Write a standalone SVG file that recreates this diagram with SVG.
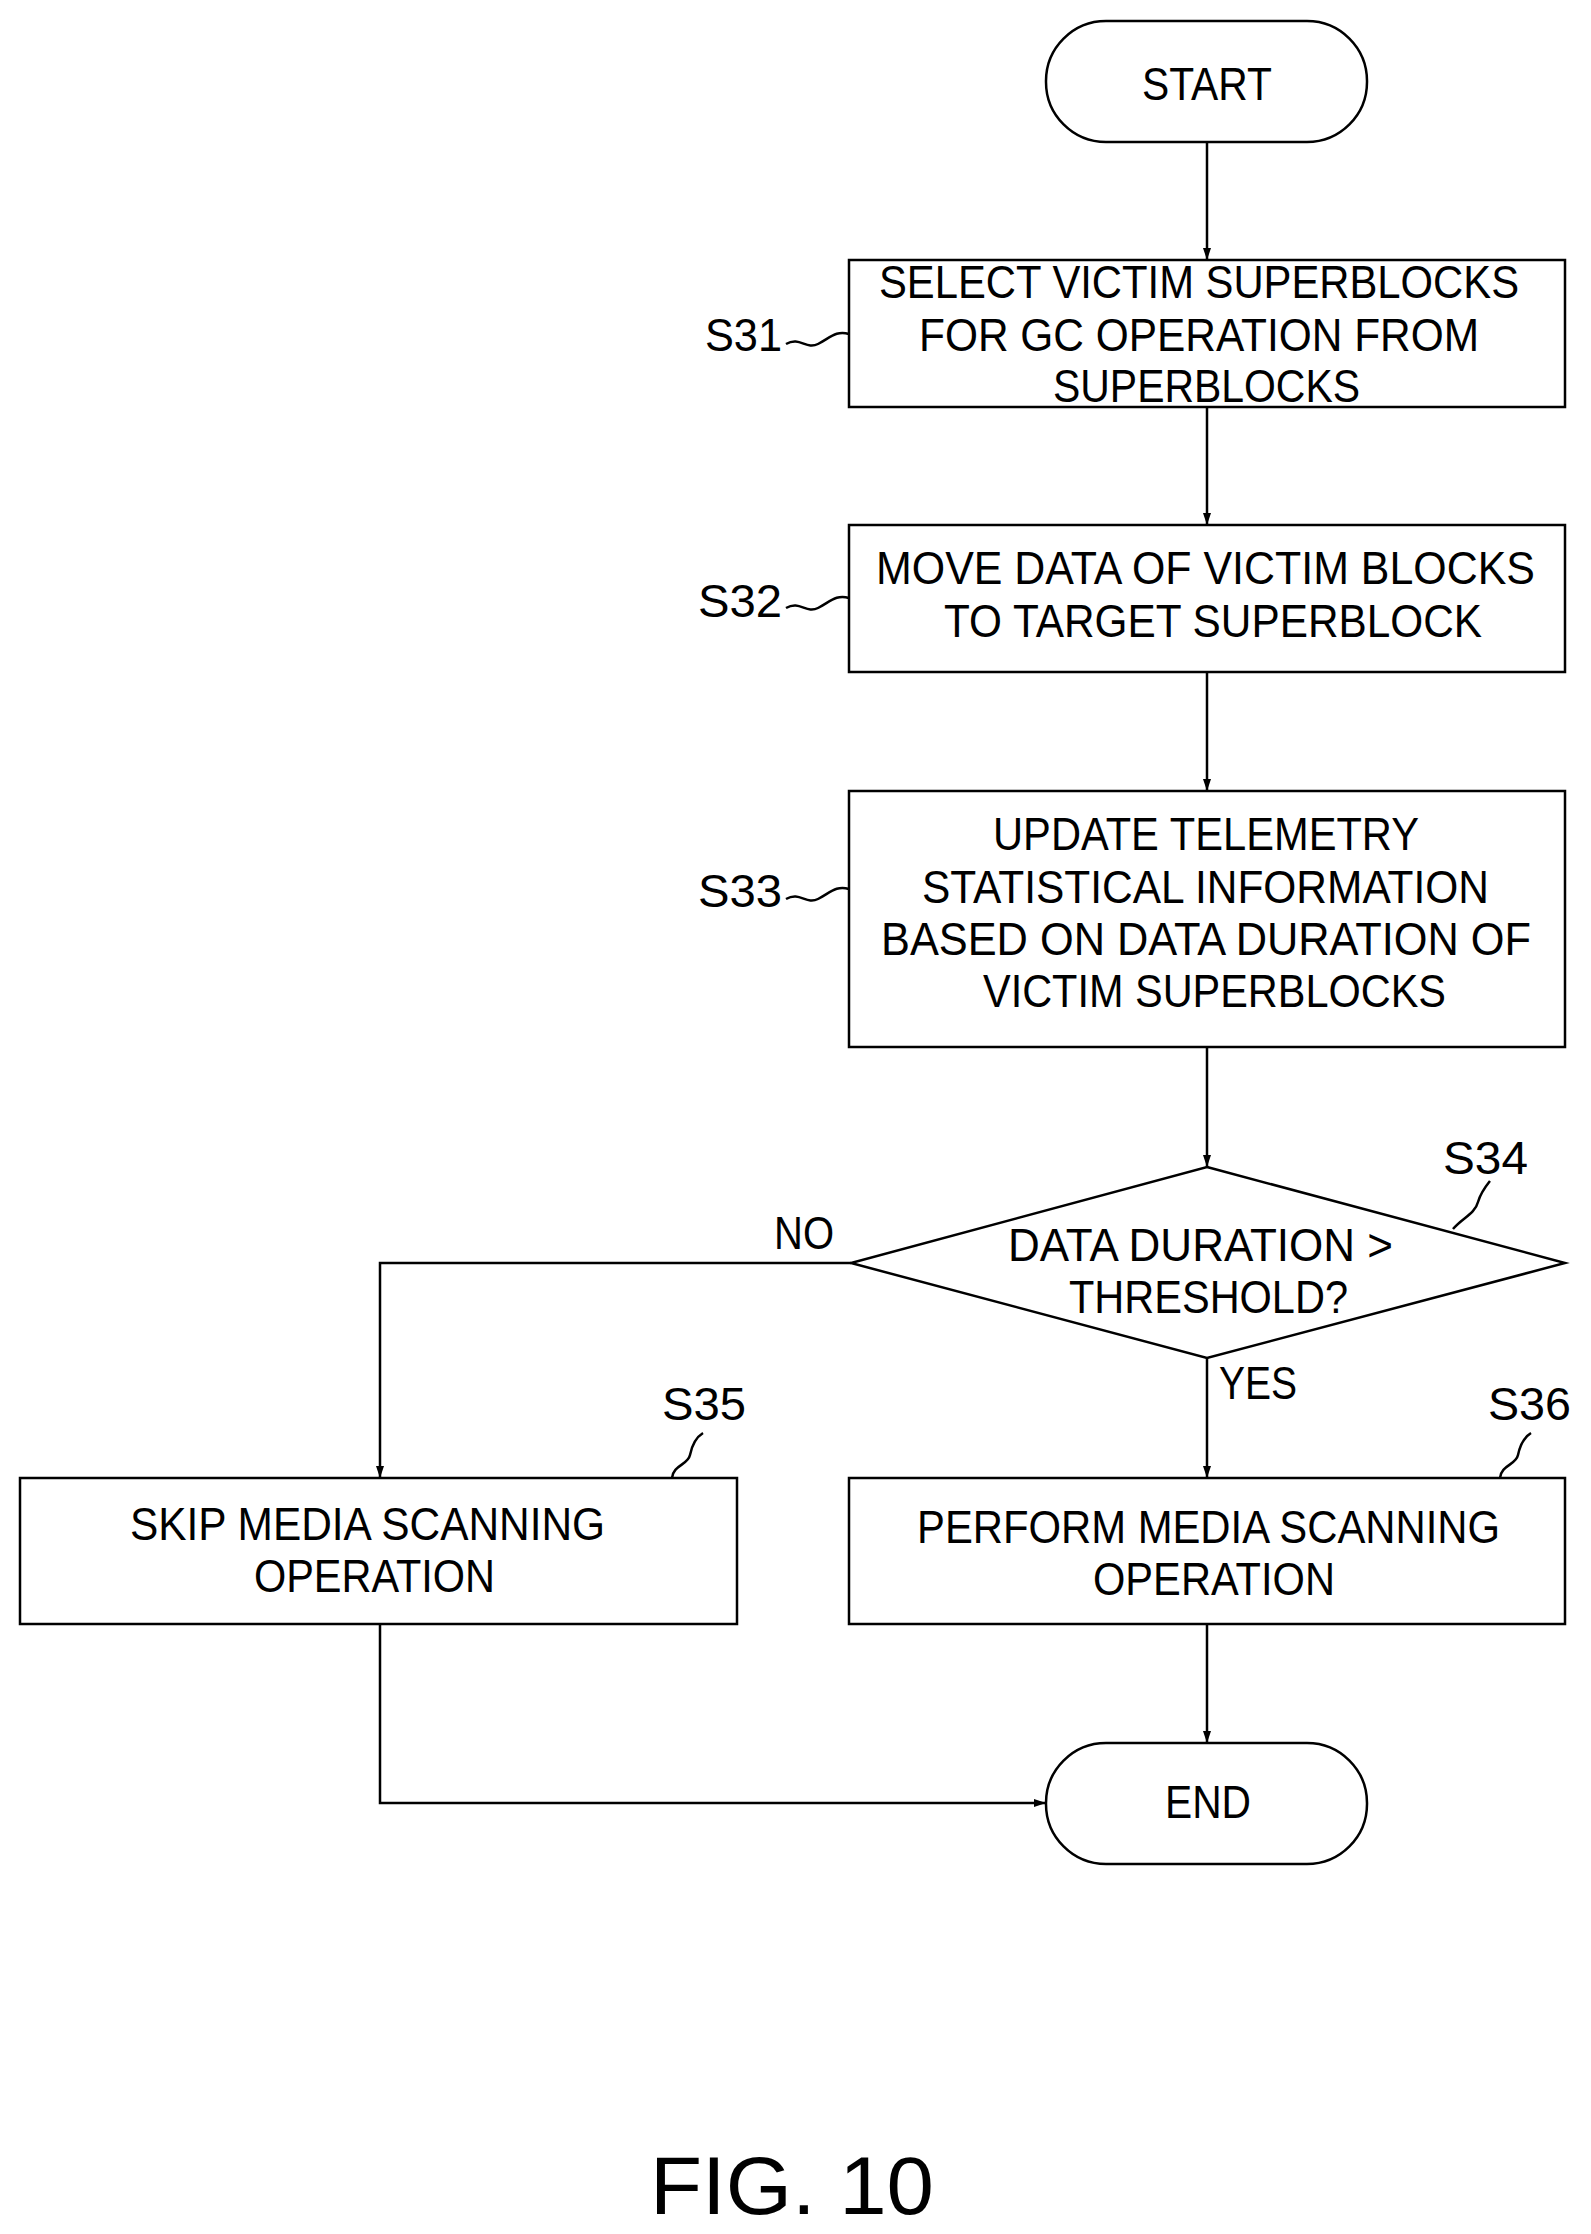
<svg xmlns="http://www.w3.org/2000/svg" width="1591" height="2234" viewBox="0 0 1591 2234">
<style>
.s{fill:#fff;stroke:#000;stroke-width:2.5}
.c{fill:none;stroke:#000;stroke-width:2.5}
text{font-family:"Liberation Sans",Arial,sans-serif;font-size:46px;fill:#000}
</style>
<defs><marker id="a" markerWidth="12" markerHeight="18" refX="18" refY="6" viewBox="0 0 18 12" orient="auto" markerUnits="userSpaceOnUse"><path d="M0,0 L18,6 L0,12 Z" fill="#000"/></marker></defs>
<rect width="1591" height="2234" fill="#fff"/>
<g id="start"><rect class="s" x="1046" y="21" width="321" height="121" rx="60"/><text x="1142" y="100" textLength="130" lengthAdjust="spacingAndGlyphs">START</text></g>
<g id="s31"><rect class="s" x="849" y="260" width="716" height="147"/>
<text x="879" y="298" textLength="640" lengthAdjust="spacingAndGlyphs">SELECT VICTIM SUPERBLOCKS</text>
<text x="919" y="351" textLength="560" lengthAdjust="spacingAndGlyphs">FOR GC OPERATION FROM</text>
<text x="1053" y="402" textLength="307" lengthAdjust="spacingAndGlyphs">SUPERBLOCKS</text>
<text x="705" y="351" textLength="77" lengthAdjust="spacingAndGlyphs">S31</text>
<path class="c" d="M786,344 C800,336 806,350 818,344 C830,338 836,330 849,334"/></g>
<g id="s32"><rect class="s" x="849" y="525" width="716" height="147"/>
<text x="876" y="584" textLength="659" lengthAdjust="spacingAndGlyphs">MOVE DATA OF VICTIM BLOCKS</text>
<text x="944" y="637" textLength="538" lengthAdjust="spacingAndGlyphs">TO TARGET SUPERBLOCK</text>
<text x="698" y="617" textLength="84" lengthAdjust="spacingAndGlyphs">S32</text>
<path class="c" d="M786,608 C800,600 806,614 818,608 C830,602 836,594 849,598"/></g>
<g id="s33"><rect class="s" x="849" y="791" width="716" height="256"/>
<text x="993" y="850" textLength="426" lengthAdjust="spacingAndGlyphs">UPDATE TELEMETRY</text>
<text x="922" y="903" textLength="567" lengthAdjust="spacingAndGlyphs">STATISTICAL INFORMATION</text>
<text x="881" y="955" textLength="650" lengthAdjust="spacingAndGlyphs">BASED ON DATA DURATION OF</text>
<text x="983" y="1007" textLength="463" lengthAdjust="spacingAndGlyphs">VICTIM SUPERBLOCKS</text>
<text x="698" y="907" textLength="84" lengthAdjust="spacingAndGlyphs">S33</text>
<path class="c" d="M786,899 C800,891 806,905 818,899 C830,893 836,885 849,889"/></g>
<g id="s34"><path class="s" d="M1207,1167 L1565,1263 L1207,1358 L851,1263 Z"/>
<text x="1008" y="1261" textLength="385" lengthAdjust="spacingAndGlyphs">DATA DURATION &gt;</text>
<text x="1069" y="1313" textLength="279" lengthAdjust="spacingAndGlyphs">THRESHOLD?</text>
<text x="1443" y="1174" textLength="85" lengthAdjust="spacingAndGlyphs">S34</text>
<path class="c" d="M1453,1229 C1462,1218 1475,1214 1478,1202 C1481,1192 1486,1186 1490,1181"/></g>
<g id="s35"><rect class="s" x="20" y="1478" width="717" height="146"/>
<text x="130" y="1540" textLength="475" lengthAdjust="spacingAndGlyphs">SKIP MEDIA SCANNING</text>
<text x="254" y="1592" textLength="241" lengthAdjust="spacingAndGlyphs">OPERATION</text>
<text x="662" y="1420" textLength="84" lengthAdjust="spacingAndGlyphs">S35</text>
<path class="c" d="M672,1478 C673,1465 688,1465 690,1455 C692,1445 695,1438 703,1433"/></g>
<g id="s36"><rect class="s" x="849" y="1478" width="716" height="146"/>
<text x="917" y="1543" textLength="583" lengthAdjust="spacingAndGlyphs">PERFORM MEDIA SCANNING</text>
<text x="1093" y="1595" textLength="242" lengthAdjust="spacingAndGlyphs">OPERATION</text>
<text x="1488" y="1420" textLength="83" lengthAdjust="spacingAndGlyphs">S36</text>
<path class="c" d="M1500,1478 C1501,1465 1516,1465 1518,1455 C1520,1445 1523,1438 1531,1433"/></g>
<g id="end"><rect class="s" x="1046" y="1743" width="321" height="121" rx="60"/><text x="1165" y="1818" textLength="86" lengthAdjust="spacingAndGlyphs">END</text></g>
<g id="connectors">
<path class="c" d="M1207,142 V260" marker-end="url(#a)"/>
<path class="c" d="M1207,407 V525" marker-end="url(#a)"/>
<path class="c" d="M1207,672 V791" marker-end="url(#a)"/>
<path class="c" d="M1207,1047 V1167" marker-end="url(#a)"/>
<path class="c" d="M851,1263 H380 V1478" marker-end="url(#a)"/>
<path class="c" d="M1207,1358 V1478" marker-end="url(#a)"/>
<path class="c" d="M1207,1624 V1743" marker-end="url(#a)"/>
<path class="c" d="M380,1624 V1803 H1046" marker-end="url(#a)"/>
<text x="774" y="1249" textLength="60" lengthAdjust="spacingAndGlyphs">NO</text>
<text x="1219" y="1399" textLength="78" lengthAdjust="spacingAndGlyphs">YES</text>
</g>
<text x="650" y="2214" style="font-size:82px" textLength="284" lengthAdjust="spacingAndGlyphs">FIG. 10</text>
</svg>
